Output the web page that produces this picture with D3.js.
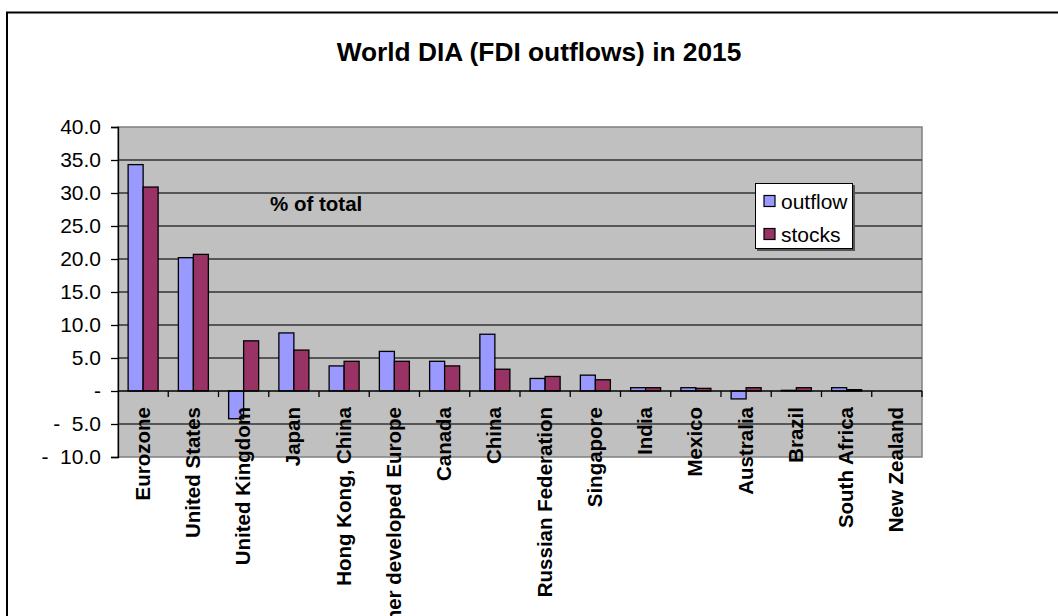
<!DOCTYPE html>
<html>
<head>
<meta charset="utf-8">
<script src="https://cdn.jsdelivr.net/npm/d3@7"></script>
<style>
  html, body { margin: 0; padding: 0; background: #fff; }
  svg { display: block; }
  text { font-family: Arial, "Liberation Sans", sans-serif; }
</style>
</head>
<body>
<svg id="chart" width="1058" height="616"></svg>
<script>
const categories = ["Eurozone", "United States", "United Kingdom", "Japan", "Hong Kong, China",
  "Other developed Europe", "Canada", "China", "Russian Federation", "Singapore", "India",
  "Mexico", "Australia", "Brazil", "South Africa", "New Zealand"];
const outflow = [34.3, 20.2, -4.2, 8.8, 3.8, 6.0, 4.5, 8.6, 1.9, 2.4, 0.5, 0.5, -1.2, 0.1, 0.5, 0.0];
const stocks  = [30.9, 20.7, 7.6, 6.2, 4.5, 4.5, 3.8, 3.3, 2.2, 1.7, 0.5, 0.4, 0.5, 0.5, 0.2, 0.0];
const seriesNames = ["outflow", "stocks"];
const seriesColors = ["#9999FF", "#993366"];
const yTicks = [-10, -5, 0, 5, 10, 15, 20, 25, 30, 35, 40];
const titleText = "World DIA (FDI outflows) in 2015";
const noteText = "% of total";

const svg = d3.select("#chart");
const plot = { left: 118, right: 922, top: 127, bottom: 457 };

// outer border (top and left visible)
svg.append("path")
  .attr("d", `M7,616 L7,12.5 L1058,12.5`)
  .attr("fill", "none").attr("stroke", "#000").attr("stroke-width", 2);

// title
svg.append("text")
  .attr("x", 539).attr("y", 61)
  .attr("text-anchor", "middle")
  .attr("font-size", 26.3).attr("font-weight", "bold")
  .text(titleText);

const x0 = d3.scaleBand().domain(categories).range([plot.left, plot.right]).paddingInner(0).paddingOuter(0);
const x1 = d3.scaleBand().domain(seriesNames).range([0, x0.bandwidth()]).paddingInner(0).paddingOuter(0.675);
const y = d3.scaleLinear().domain([-10, 40]).range([plot.bottom, plot.top]);

// plot background
svg.append("rect")
  .attr("x", plot.left).attr("y", plot.top)
  .attr("width", plot.right - plot.left).attr("height", plot.bottom - plot.top)
  .attr("fill", "#C0C0C0").attr("stroke", "#808080").attr("stroke-width", 1.5);

// gridlines
svg.append("g").selectAll("line")
  .data(yTicks.filter(t => t !== 0 && t !== 40 && t !== -10))
  .join("line")
  .attr("x1", plot.left).attr("x2", plot.right)
  .attr("y1", d => y(d)).attr("y2", d => y(d))
  .attr("stroke", "#333").attr("stroke-width", 1.3);

// bars
const data = categories.map((c, i) => ({ cat: c, vals: [outflow[i], stocks[i]] }));
const groups = svg.append("g").selectAll("g")
  .data(data).join("g")
  .attr("transform", d => `translate(${x0(d.cat)},0)`);
groups.selectAll("rect")
  .data(d => d.vals.map((v, j) => ({ v, s: seriesNames[j], c: seriesColors[j] })))
  .join("rect")
  .attr("x", d => x1(d.s))
  .attr("width", x1.bandwidth())
  .attr("y", d => y(Math.max(0, d.v)))
  .attr("height", d => Math.abs(y(d.v) - y(0)))
  .attr("fill", d => d.c)
  .attr("stroke", "#000").attr("stroke-width", 1.3);

// zero axis line with ticks
svg.append("line")
  .attr("x1", plot.left).attr("x2", plot.right)
  .attr("y1", y(0)).attr("y2", y(0))
  .attr("stroke", "#000").attr("stroke-width", 1.3);
const bounds = categories.map(c => x0(c)).concat([plot.right]).slice(1);
svg.append("g").selectAll("line")
  .data(bounds).join("line")
  .attr("x1", d => d).attr("x2", d => d)
  .attr("y1", y(0)).attr("y2", y(0) + 6)
  .attr("stroke", "#000").attr("stroke-width", 1.3);

// left axis
const fmt = v => v === 0 ? "-" : (v < 0 ? "-  " + Math.abs(v).toFixed(1) : v.toFixed(1));
const yAxis = d3.axisLeft(y).tickValues(yTicks).tickSize(7).tickPadding(10).tickFormat(fmt);
const ya = svg.append("g").attr("transform", `translate(${plot.left},0)`).call(yAxis);
ya.select(".domain").attr("stroke", "#000").attr("stroke-width", 1.3);
ya.selectAll(".tick line").attr("stroke", "#000").attr("stroke-width", 1.3);
ya.selectAll(".tick text")
  .attr("font-size", 21).attr("fill", "#000")
  .attr("font-family", "Arial, 'Liberation Sans', sans-serif")
  .style("white-space", "pre");

// category labels
svg.append("g").selectAll("text")
  .data(categories).join("text")
  .attr("transform", d => `translate(${x0(d) + x0.bandwidth() / 2 + 6.5},407) rotate(-90)`)
  .attr("text-anchor", "end")
  .attr("font-size", 20.5).attr("font-weight", "bold")
  .text(d => d);

// note
svg.append("text")
  .attr("x", 270).attr("y", 211)
  .attr("font-size", 20.5).attr("font-weight", "bold")
  .text(noteText);

// legend
const lg = svg.append("g");
lg.append("rect").attr("x", 757).attr("y", 185).attr("width", 98).attr("height", 66).attr("fill", "#555");
lg.append("rect").attr("x", 755.5).attr("y", 183.5).attr("width", 97).attr("height", 65)
  .attr("fill", "#fff").attr("stroke", "#000").attr("stroke-width", 1);
const items = lg.selectAll("g.item").data(seriesNames).join("g")
  .attr("transform", (d, i) => `translate(0,${201 + i * 33})`);
items.append("rect").attr("x", 764).attr("y", -5.5).attr("width", 11).attr("height", 11)
  .attr("fill", (d, i) => seriesColors[i]).attr("stroke", "#000").attr("stroke-width", 1.2);
items.append("text").attr("x", 781).attr("y", 7.5)
  .attr("font-size", 21).text(d => d);
</script>
</body>
</html>
